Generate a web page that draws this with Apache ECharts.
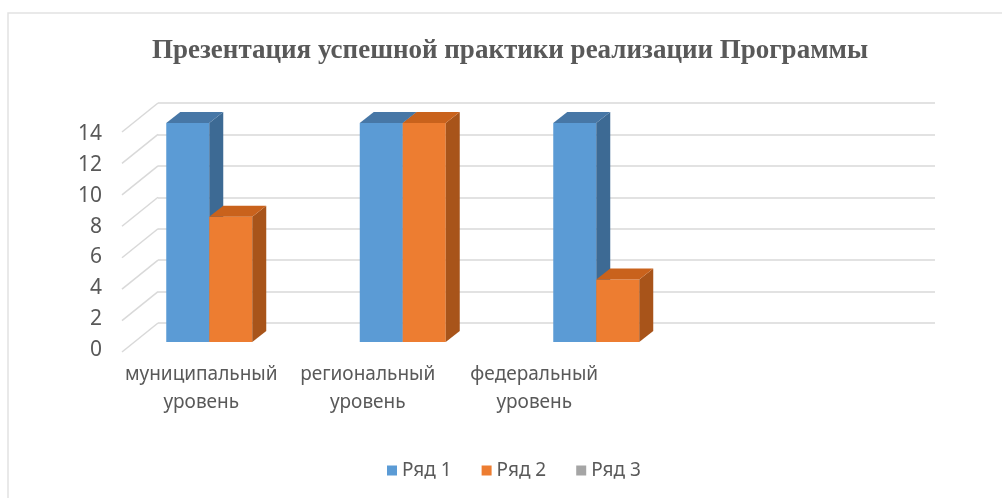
<!DOCTYPE html>
<html>
<head>
<meta charset="utf-8">
<title>Презентация успешной практики реализации Программы</title>
<script src="https://cdn.jsdelivr.net/npm/echarts@6/dist/echarts.min.js"></script>
<style>
  html, body { margin: 0; padding: 0; background: #fff; }
  #chart { width: 1002px; height: 498px; }
</style>
</head>
<body>
<div id="chart"></div>
<script>
    // данные диаграммы
    var categories = ['муниципальный\nуровень', 'региональный\nуровень', 'федеральный\nуровень', ''];
    var seriesNames = ['Ряд 1', 'Ряд 2', 'Ряд 3'];
    var row1 = [14, 14, 14, null];
    var row2 = [8, 14, 4, null];
    var row3 = [null, null, null, null];
    var yMin = 0, yMax = 14, yStep = 2;

    var frontColors = ['#5b9bd5', '#ed7d31', '#a5a5a5'];
    var topColors = ['#4777a6', '#c9621c', '#8c8c8c'];
    var sideColors = ['#3d6a94', '#a8541a', '#7a7a7a'];
    var BAR_RATIO = 0.2222;   // ширина столбика от ширины категории
    var DX = 14, DY = -11;    // глубина столбика
    var WALL_DX = -36, WALL_DY = 29; // от задней стенки к передней кромке
    var textColor = '#595959';
    var gridColor = '#d9d9d9';

    var ticks = [];
    for (var t = yMin; t <= yMax; t += yStep) ticks.push([0, t]);

    function makeBar(idx) {
        return function (params, api) {
            var v = api.value(1);
            if (v == null || isNaN(v)) return;
            var base = api.coord([api.value(0), 0]);
            var top = api.coord([api.value(0), v]);
            var w = api.size([1, 0])[0] * BAR_RATIO;
            var x0 = base[0] - 1.5 * w + idx * w;
            var x1 = x0 + w;
            return {
                type: 'group',
                children: [
                    {
                        type: 'rect',
                        shape: { x: x0, y: top[1], width: w, height: base[1] - top[1] },
                        style: { fill: frontColors[idx] }
                    },
                    {
                        type: 'polygon',
                        shape: { points: [[x1, top[1]], [x1 + DX, top[1] + DY], [x1 + DX, base[1] + DY], [x1, base[1]]] },
                        style: { fill: sideColors[idx] }
                    },
                    {
                        type: 'polygon',
                        shape: { points: [[x0, top[1]], [x0 + DX, top[1] + DY], [x1 + DX, top[1] + DY], [x1, top[1]]] },
                        style: { fill: topColors[idx] }
                    }
                ]
            };
        };
    }

    function toPairs(arr) {
        return arr.map(function (v, i) { return [i, v]; });
    }

    var rows = [row1, row2, row3];
    var barSeries = rows.map(function (row, i) {
        return {
            name: seriesNames[i],
            type: 'custom',
            xAxisIndex: 0,
            yAxisIndex: 0,
            z: 5,
            itemStyle: { color: frontColors[i] },
            renderItem: makeBar(i),
            data: toPairs(row)
        };
    });

    var chart = echarts.init(document.getElementById('chart'));
    chart.setOption({
        animation: false,
        backgroundColor: '#ffffff',
        graphic: [{
            type: 'rect',
            z: -10,
            shape: { x: 8, y: 13, width: 1100, height: 600 },
            style: { fill: 'none', stroke: '#e2e2e2', lineWidth: 1.5 }
        }],
        title: {
            text: 'Презентация успешной практики реализации Программы',
            left: 147,
            top: 33,
            textStyle: {
                fontFamily: 'Liberation Serif',
                fontWeight: 'bold',
                fontSize: 27,
                color: textColor
            }
        },
        legend: {
            data: seriesNames,
            top: 456,
            left: 382,
            icon: 'rect',
            itemWidth: 10,
            itemHeight: 10,
            itemGap: 30,
            textStyle: { fontFamily: 'Noto Sans', fontSize: 19, color: textColor }
        },
        grid: [
            { left: 134, width: 774, top: 123, height: 219 },  // плоскость столбиков
            { left: 158, width: 777, top: 103, height: 220 },  // задняя стенка
            { left: 118, width: 666, top: 134, height: 216 }   // передняя кромка с подписями
        ],
        xAxis: [
            { gridIndex: 0, type: 'category', data: categories, show: false },
            { gridIndex: 1, type: 'value', min: 0, max: 1, show: false },
            {
                gridIndex: 2, type: 'category', data: categories,
                axisLine: { show: false }, axisTick: { show: false },
                axisLabel: { margin: 11, fontFamily: 'Noto Sans', fontSize: 19, lineHeight: 28, color: textColor, interval: 0 }
            }
        ],
        yAxis: [
            { gridIndex: 0, type: 'value', min: yMin, max: yMax, interval: yStep, show: false },
            {
                gridIndex: 1, type: 'value', min: yMin, max: yMax, interval: yStep,
                axisLine: { show: false }, axisTick: { show: false }, axisLabel: { show: false },
                splitLine: { show: true, lineStyle: { color: gridColor, width: 1.5 } }
            },
            {
                gridIndex: 2, type: 'value', min: yMin, max: yMax, interval: yStep,
                axisLine: { show: false }, axisTick: { show: false }, splitLine: { show: false },
                axisLabel: { margin: 16, fontFamily: 'Noto Sans', fontSize: 21, color: textColor }
            }
        ],
        series: [{
            type: 'custom',
            xAxisIndex: 1,
            yAxisIndex: 1,
            silent: true,
            z: 1,
            renderItem: function (params, api) {
                var p = api.coord([0, api.value(1)]);
                return {
                    type: 'line',
                    shape: { x1: p[0], y1: p[1], x2: p[0] + WALL_DX, y2: p[1] + WALL_DY },
                    style: { stroke: gridColor, lineWidth: 1.5 }
                };
            },
            data: ticks
        }].concat(barSeries)
    });
</script>
</body>
</html>
